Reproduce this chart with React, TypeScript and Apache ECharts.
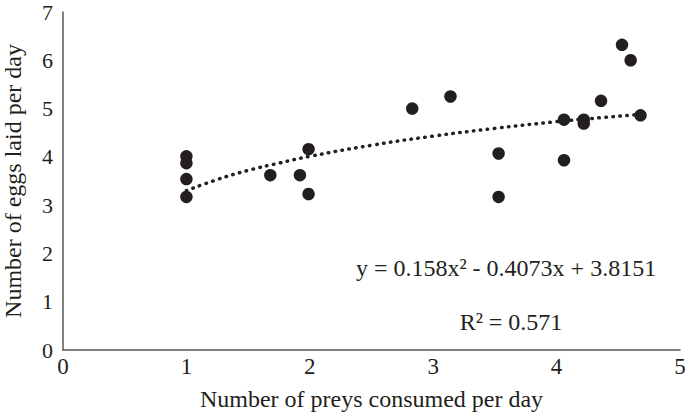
import React, { useEffect, useRef } from "react";
import * as echarts from "echarts";

const preysPerDay = [1, 1, 1, 1, 1.68, 1.92, 1.99, 1.99, 2.83, 3.14, 3.53, 3.53, 4.06, 4.06, 4.22, 4.22, 4.36, 4.53, 4.6, 4.68];
const eggsPerDay = [4.01, 3.87, 3.54, 3.17, 3.62, 3.62, 4.16, 3.23, 5.0, 5.25, 4.07, 3.17, 4.77, 3.93, 4.77, 4.69, 5.16, 6.32, 6.0, 4.86];
// Trendline
const trendX = [1, 1.25, 1.5, 1.75, 2, 2.5, 3, 3.5, 4, 4.35, 4.68];
const trendY = [3.3, 3.53, 3.72, 3.87, 4.01, 4.24, 4.43, 4.59, 4.73, 4.81, 4.88];
const equationLabel = "y = 0.158x² - 0.4073x + 3.8151";
const rSquaredLabel = "R² = 0.571";
const xAxisTitle = "Number of preys consumed per day";
const yAxisTitle = "Number of eggs laid per day";

const FONT = "Liberation Serif";
const TXT = "#231f20";

export default function App() {
  const ref = useRef<HTMLDivElement>(null);
  useEffect(() => {
    if (!ref.current) return;
    const chart = echarts.init(ref.current, undefined, { renderer: "svg" });
    const points = preysPerDay.map((x, i) => [x, eggsPerDay[i]]);
    const trend = trendX.map((x, i) => [x, trendY[i]]);
    chart.setOption({
      animation: false,
      backgroundColor: "#fff",
      grid: { left: 63, right: 5, top: 12, bottom: 66, containLabel: false, outerBoundsMode: "none" },
      xAxis: {
        type: "value",
        min: 0,
        max: 5,
        interval: 1,
        name: xAxisTitle,
        nameLocation: "middle",
        nameGap: 37,
        nameTextStyle: { fontFamily: FONT, fontSize: 24, color: TXT },
        axisLine: { show: true, lineStyle: { color: "#595959", width: 1.5 } },
        axisTick: { show: false },
        splitLine: { show: false },
        axisLabel: { fontFamily: FONT, fontSize: 23, color: TXT, margin: 5 },
      },
      yAxis: {
        type: "value",
        min: 0,
        max: 7,
        interval: 1,
        name: yAxisTitle,
        nameLocation: "middle",
        nameGap: 38,
        nameTextStyle: { fontFamily: FONT, fontSize: 24, color: TXT },
        axisLine: { show: true, lineStyle: { color: "#595959", width: 1.5 } },
        axisTick: { show: false },
        splitLine: { show: false },
        axisLabel: { fontFamily: FONT, fontSize: 22, color: TXT, margin: 10 },
      },
      series: [
        {
          type: "line",
          data: trend,
          showSymbol: false,
          symbol: "none",
          smooth: true,
          lineStyle: { color: "#231f20", width: 3.5, type: [0.5, 6.5], cap: "round" },
          z: 1,
        },
        {
          type: "scatter",
          data: points,
          symbolSize: 12.5,
          itemStyle: { color: "#231f20", opacity: 1 },
          z: 2,
        },
      ],
      graphic: [
        {
          type: "text",
          x: 506,
          y: 268,
          style: {
            text: equationLabel,
            fontFamily: FONT,
            fontSize: 24,
            fill: TXT,
            align: "center",
            verticalAlign: "middle",
          },
        },
        {
          type: "text",
          x: 511,
          y: 322,
          style: {
            text: rSquaredLabel,
            fontFamily: FONT,
            fontSize: 24,
            fill: TXT,
            align: "center",
            verticalAlign: "middle",
          },
        },
      ],
    });
    return () => chart.dispose();
  }, []);
  return <div ref={ref} style={{ width: 685, height: 416, position: "absolute", left: 0, top: 0 }} />;
}
